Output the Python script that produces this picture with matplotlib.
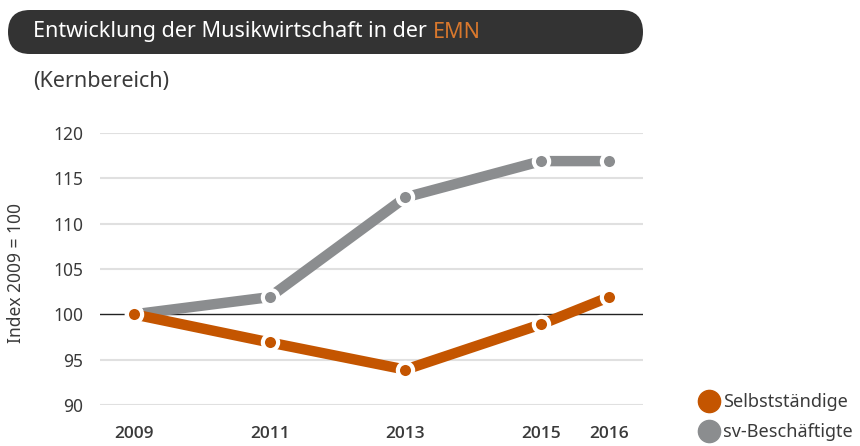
import matplotlib
matplotlib.use("Agg")
import matplotlib.pyplot as plt
from matplotlib.patches import FancyBboxPatch
from matplotlib.lines import Line2D

plt.rcParams["font.family"] = ["Noto Sans", "DejaVu Sans"]

YEARS = [2009, 2011, 2013, 2015, 2016]
SELBST = [100, 96.9, 93.9, 98.9, 101.9]
SV_BESCH = [100, 101.9, 112.9, 116.9, 116.9]
Y_TICKS = [90, 95, 100, 105, 110, 115, 120]
SERIES_NAMES = ["Selbstständige", "sv-Beschäftigte"]

ORANGE = "#c45500"
GRAY = "#8b8d8f"
TEXT = "#3a3a3a"

W, H = 860, 446
fig = plt.figure(figsize=(W / 100, H / 100), dpi=100)

# background axes in pixel coordinates for the title bar
bg = fig.add_axes([0, 0, 1, 1])
bg.set_xlim(0, W)
bg.set_ylim(H, 0)
bg.axis("off")
bg.add_patch(FancyBboxPatch((8, 10), 635, 44, boxstyle="round,pad=0,rounding_size=22",
                            facecolor="#333333", edgecolor="none"))
t = bg.text(33, 32, "Entwicklung der Musikwirtschaft in der ", color="white",
            fontsize=15.5, va="center", ha="left")
fig.canvas.draw()
bb = t.get_window_extent()
fig.text(bb.x1 / W, (H - 32) / H, "EMN", color="#d9782d", fontsize=15.5, va="center", ha="left")
bg.text(33, 81, "(Kernbereich)", color=TEXT, fontsize=15.5, va="center", ha="left")

ax = fig.add_axes([100 / W, (H - 405) / H, 543 / W, 272 / H])
ax.set_xlim(2008.5, 2016.5)
ax.set_ylim(90, 120)
for s in ax.spines.values():
    s.set_visible(False)
for yv in Y_TICKS:
    if yv == 100:
        ax.axhline(yv, color="#222222", linewidth=1.0, zorder=1)
    else:
        ax.axhline(yv, color="#e0e0e0", linewidth=1.5, zorder=1)

ax.plot(YEARS, SV_BESCH, color=GRAY, linewidth=7.5, solid_capstyle="butt", zorder=2,
        marker="o", markersize=11, markerfacecolor=GRAY, markeredgecolor="white",
        markeredgewidth=3, clip_on=False)
ax.plot(YEARS, SELBST, color=ORANGE, linewidth=7.5, solid_capstyle="butt", zorder=3,
        marker="o", markersize=11, markerfacecolor=ORANGE, markeredgecolor="white",
        markeredgewidth=3, clip_on=False)

ax.set_yticks(Y_TICKS)
ax.set_yticklabels([str(v) for v in Y_TICKS], color=TEXT, fontsize=12.5)
ax.set_xticks(YEARS)
ax.set_xticklabels([str(v) for v in YEARS], color=TEXT, fontsize=12.5,
                   fontweight="semibold", family=["Open Sans", "DejaVu Sans"])
ax.tick_params(axis="both", length=0)
ax.tick_params(axis="y", pad=12)
ax.tick_params(axis="x", pad=15)
fig.text(16 / W, (H - 273) / H, "Index 2009 = 100", rotation=90, color=TEXT,
         fontsize=12.5, va="center", ha="center")

handles = [Line2D([], [], linestyle="none", marker="o", markersize=16, color=c)
           for c in (ORANGE, GRAY)]
fig.legend(handles, SERIES_NAMES, loc="center left", bbox_to_anchor=(689 / W, (H - 417) / H),
           frameon=False, fontsize=13, labelcolor=TEXT, handletextpad=0.2,
           handlelength=1.2, labelspacing=0.65, borderpad=0)

fig.savefig("out.png", dpi=100)
